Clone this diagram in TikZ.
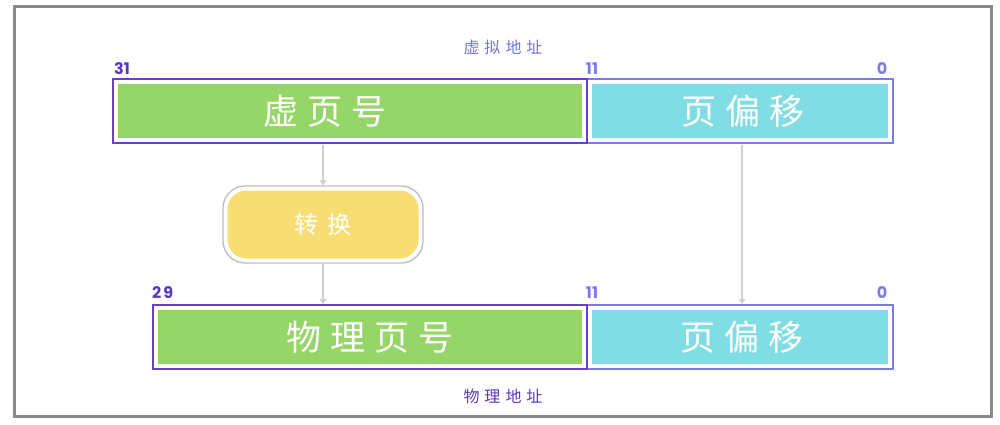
\documentclass[tikz,border=0pt]{standalone}
\usepackage{fontspec}
\setmainfont{Poppins}
\newfontfamily\cjk{Noto Sans CJK SC}
\usetikzlibrary{arrows.meta}
\definecolor{framegray}{HTML}{8A8A8A}
\definecolor{vgreen}{HTML}{96D668}
\definecolor{vcyan}{HTML}{80DDE4}
\definecolor{vyellow}{HTML}{F8DD72}
\definecolor{bpurple}{HTML}{6A3FD0}
\definecolor{bblue}{HTML}{7B7BE6}
\definecolor{lblue}{HTML}{6F78D8}
\definecolor{lpurple}{HTML}{5A36C4}
\definecolor{arrowgray}{HTML}{D0D0D0}
\definecolor{convgray}{HTML}{BDBDBD}
\tikzset{
  x=1pt, y=-1pt,
  outerbox/.style={draw=#1, line width=1.6pt, fill=white, minimum height=64pt, inner sep=0pt, anchor=center},
  fillbox/.style={fill=#1, minimum height=54pt, inner sep=0pt, text=white, font=\cjk\fontsize{35}{35}\selectfont},
  numlbl/.style={font=\bfseries\fontsize{16}{16}\selectfont, inner sep=0pt},
  addrlbl/.style={font=\cjk\fontsize{16}{16}\selectfont, inner sep=0pt},
  flow/.style={draw=arrowgray, line width=1.5pt, -{Triangle[width=7pt,length=5pt]}},
}
\newcommand{\gapx}[1]{\hspace{#1pt}}
\begin{document}
\begin{tikzpicture}
\useasboundingbox (0,0) rectangle (1000,424);
\node[draw=framegray, line width=3pt, minimum width=977pt, minimum height=410pt, inner sep=0pt] (frame) at (503,211) {};

% top row
\node[outerbox=bblue, minimum width=306pt] (vo) at (740,111) {};
\node[outerbox=bpurple, minimum width=474pt] (vp) at (350,111) {};
\node[fillbox=vgreen, minimum width=464pt] (vpi) at (350,111) {};
\node[text=white, font=\cjk\fontsize{35}{35}\selectfont, inner sep=0pt] (vpt) at (325,111) {虚\gapx{9}页\gapx{9}号};
\node[fillbox=vcyan, minimum width=296pt] (voi) at (740,111) {\hspace*{6pt}页\gapx{9}偏\gapx{9}移};

% bottom row
\node[outerbox=bblue, minimum width=306pt] (po) at (740,337) {};
\node[outerbox=bpurple, minimum width=434pt] (pp) at (370,337) {};
\node[fillbox=vgreen, minimum width=424pt] (ppi) at (370,337) {物\gapx{9}理\gapx{9}页\gapx{9}号};
\node[fillbox=vcyan, minimum width=296pt] (poi) at (740,337) {\hspace*{4pt}页\gapx{9}偏\gapx{9}移};

% conversion
\node[draw=convgray, line width=1.3pt, fill=white, rounded corners=22pt, minimum width=200pt, minimum height=77pt, inner sep=0pt] (conv) at (323,224.5) {};
\node[fill=vyellow, rounded corners=19pt, minimum width=191pt, minimum height=68pt, inner sep=0pt, text=white, font=\cjk\fontsize{24}{24}\selectfont] (convi) at (323,224.5) {转\gapx{9}换};

% labels
\node[addrlbl, text=lblue] (vlabel) at (503,47) {虚\gapx{5}拟\gapx{5}地\gapx{5}址};
\node[addrlbl, text=lpurple] (plabel) at (503,396) {物\gapx{5}理\gapx{5}地\gapx{5}址};
\node[numlbl, text=lpurple, anchor=west] (n31) at (114,69) {31};
\node[numlbl, text=bblue] (n11a) at (592,69) {11};
\node[numlbl, text=bblue] (n0a) at (882,69) {0};
\node[numlbl, text=lpurple, anchor=west] (n29) at (152,293) {2\gapx{2}9};
\node[numlbl, text=bblue] (n11b) at (592,293) {11};
\node[numlbl, text=bblue] (n0b) at (882,293) {0};

% arrows
\coordinate (a1s) at (323,145);
\coordinate (a2e) at (323,304);
\coordinate (a3s) at (742,145);
\coordinate (a3e) at (742,304);
\draw[flow] (a1s) -- (conv.north);
\draw[flow] (conv.south) -- (a2e);
\draw[flow] (a3s) -- (a3e);
\end{tikzpicture}
\end{document}
